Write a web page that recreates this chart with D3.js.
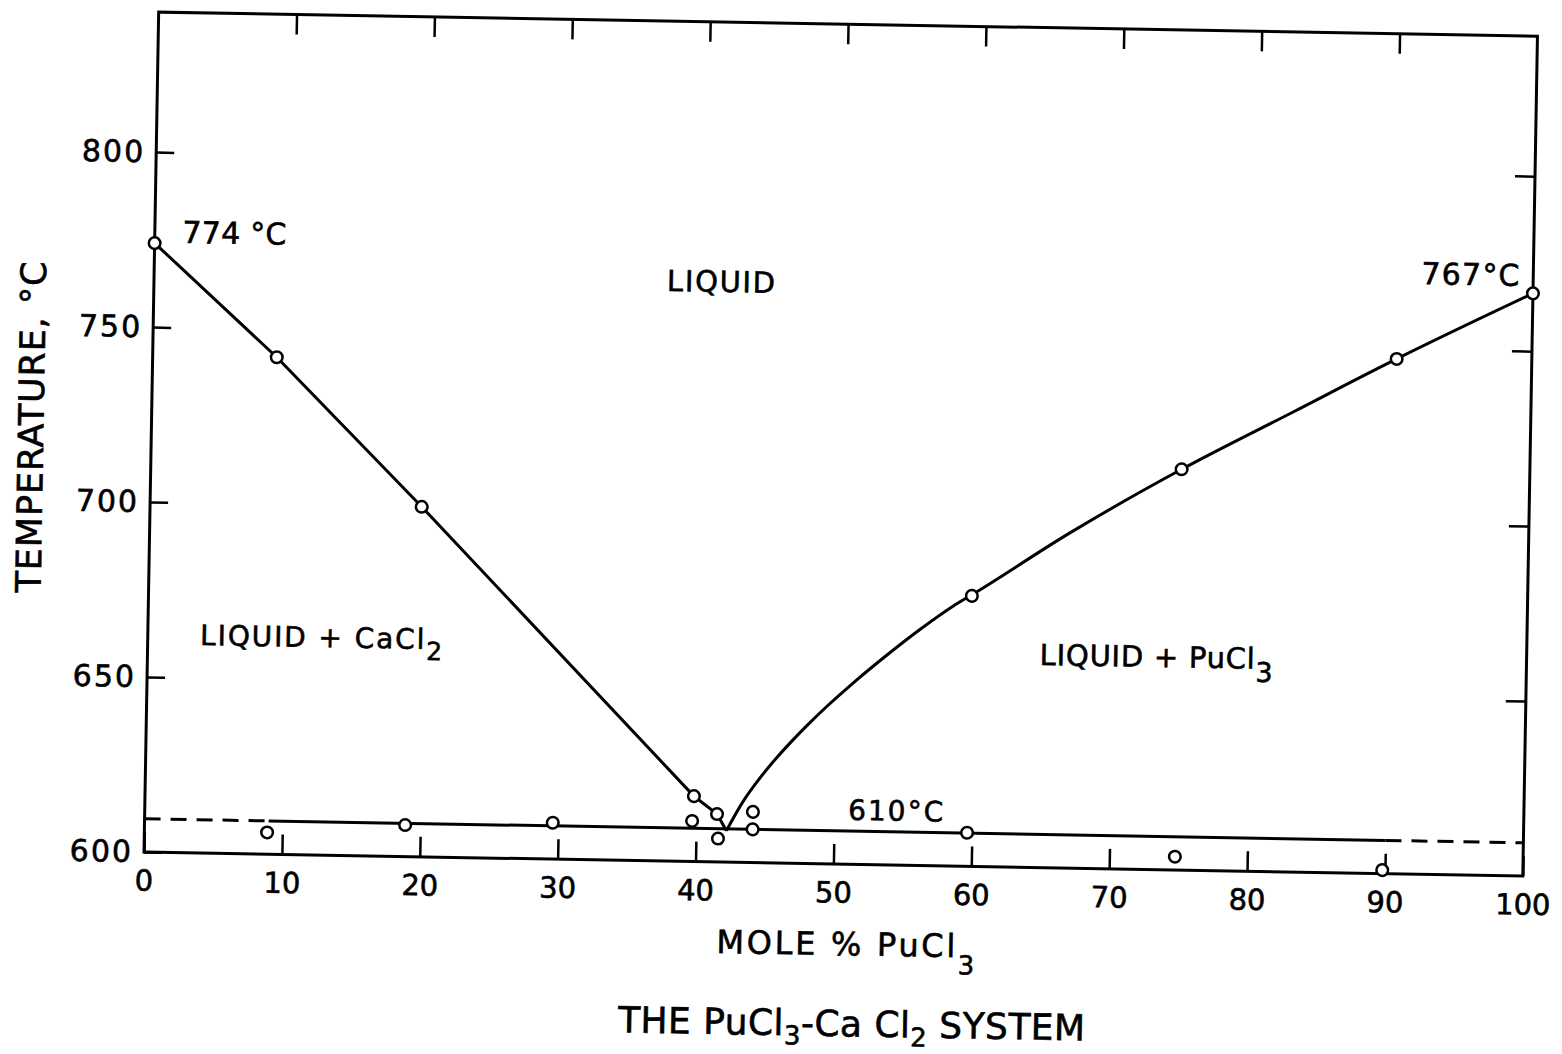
<!DOCTYPE html>
<html><head><meta charset="utf-8">
<script src="https://cdn.jsdelivr.net/npm/d3@7"></script>
<style>
body{margin:0;background:#fff}
svg{display:block;background:#fff}
text{font-family:"DejaVu Sans",sans-serif;fill:#000;stroke:#000;stroke-width:0.6px}
</style>
</head><body>
<svg id="chart" width="1562" height="1054"></svg>
<script>
// ---- data (mole % PuCl3, temperature °C) ----
const xTickValues = [0,10,20,30,40,50,60,70,80,90,100];
const yTickValues = [600,650,700,750,800];
const liquidusCaCl2Curve = [[0,774],[9,742],[19.7,700],[39.8,618.7],[41.5,613.7],[42.2,609]];
const liquidusPuCl3Curve = [[42.2,609],[43.4,617.6],[44.6,624.4],[45.8,630.3],[46.9,635.2],[48.1,640.2],[49.3,644.9],[51.2,651.8],[53.6,659.9],[56.0,667.5],[58.4,674.4],[59.7,677.6],[66.7,695.7],[74.75,714.5],[82.8,731.5],[90.2,747.1],[100,766.5]];
const liquidusPoints = [[0,774],[9,742],[19.7,700],[39.8,618.7],[41.5,613.7],[59.7,677.3],[74.75,714.5],[90.2,747.1],[100,766.5]];
const arrestPoints = [[8.9,606.2],[18.9,609.0],[29.6,610.4],[39.7,611.6],[41.6,606.7],[44.1,614.5],[44.1,609.5],[59.65,609.6],[74.75,603.8],[89.8,601.0]];
const eutecticTemp = 609.5;
const eutecticSolid = [[9,eutecticTemp],[90,eutecticTemp]];
const eutecticDashedLeft = [[0,eutecticTemp],[9,eutecticTemp]];
const eutecticDashedRight = [[90,eutecticTemp],[100,eutecticTemp]];

// ---- layout ----
const W = 1379, H = 840;
const svg = d3.select("#chart");
const g = svg.append("g").attr("transform","rotate(1,144,852) translate(144,12)");
const x = d3.scaleLinear().domain([0,100]).range([0,W]);
const y = d3.scaleLinear().domain([600,840]).range([H,0]);
const line = d3.line().x(d=>x(d[0])).y(d=>y(d[1]));
const smooth = d3.line().x(d=>x(d[0])).y(d=>y(d[1])).curve(d3.curveMonotoneX);

// axes with inward ticks
const bottom = g.append("g").attr("transform",`translate(0,${H})`)
  .call(d3.axisBottom(x).tickValues(xTickValues).tickSizeInner(-20).tickSizeOuter(0).tickPadding(18));
bottom.selectAll("text").attr("font-size",29).attr("font-family","DejaVu Sans");
const left = g.append("g")
  .call(d3.axisLeft(y).tickValues(yTickValues).tickSizeInner(-18).tickSizeOuter(0).tickPadding(11));
left.selectAll("text").attr("font-size",30).attr("font-family","DejaVu Sans").style("letter-spacing","2px");
g.append("g").call(d3.axisTop(x).tickValues(xTickValues.slice(1,-1)).tickSizeInner(-20).tickSizeOuter(0).tickFormat(""));
g.append("g").attr("transform",`translate(${W},0)`)
  .call(d3.axisRight(y).tickValues(yTickValues.slice(1)).tickSizeInner(-20).tickSizeOuter(0).tickFormat(""));
g.selectAll(".domain").remove();
g.selectAll(".tick line").attr("stroke","#000").attr("stroke-width",2.5);
g.selectAll(".tick text").attr("fill","#000");

// frame
g.append("rect").attr("x",0).attr("y",0).attr("width",W).attr("height",H)
  .attr("fill","none").attr("stroke","#000").attr("stroke-width",3);

// eutectic line
g.append("path").attr("d",line(eutecticSolid)).attr("fill","none").attr("stroke","#000").attr("stroke-width",3);
[eutecticDashedLeft,eutecticDashedRight].forEach(seg=>{
  g.append("path").attr("d",line(seg)).attr("fill","none").attr("stroke","#000")
   .attr("stroke-width",3).attr("stroke-dasharray","16,10");
});

// liquidus curves
g.append("path").attr("d",line(liquidusCaCl2Curve)).attr("fill","none").attr("stroke","#000")
  .attr("stroke-width",3).attr("stroke-linejoin","round");
g.append("path").attr("d",smooth(liquidusPuCl3Curve)).attr("fill","none").attr("stroke","#000")
  .attr("stroke-width",3).attr("stroke-linejoin","round");

// data points
g.selectAll("circle.pt").data(liquidusPoints.concat(arrestPoints)).enter().append("circle")
  .attr("class","pt").attr("cx",d=>x(d[0])).attr("cy",d=>y(d[1])).attr("r",5.8)
  .attr("fill","#fff").attr("stroke","#000").attr("stroke-width",2.5);

// annotations
function label(px,py,parts,opts){
  const t = g.append("text").attr("x",px).attr("y",py).attr("font-size",opts.size)
    .attr("text-anchor",opts.anchor||"start");
  if(opts.len) t.attr("textLength",opts.len).attr("lengthAdjust","spacing");
  if(opts.rotate) t.attr("transform",opts.rotate);
  parts.forEach(p=>{
    const s = t.append("tspan").text(p.t);
    if(p.sub){ s.attr("dy",p.sub).attr("font-size",p.fs); }
    if(p.back){ s.attr("dy",p.back); }
  });
  return t;
}
label(x(2.0),y(774.2),[{t:"774 °C"}],{size:30,len:104});
label(x(37.2),y(762.9),[{t:"LIQUID"}],{size:29,len:108});
label(x(99.0),y(768.6),[{t:"767°C"}],{size:30,anchor:"end",len:98});
label(x(3.8),y(659.4),[{t:"LIQUID + CaCl"},{t:"2",sub:11,fs:25}],{size:28,len:242});
label(x(64.7),y(657.9),[{t:"LIQUID + PuCl"},{t:"3",sub:13,fs:27}],{size:29,len:233});
label(x(51.0),y(612.7),[{t:"610°C"}],{size:28,len:95});

// axis titles
label(574,931,[{t:"MOLE % PuCl"},{t:"3",sub:17,fs:26}],{size:32,len:258});
label(477,1012,[{t:"THE PuCl"},{t:"3",sub:9,fs:26},{t:"-Ca Cl",back:-9},{t:"2",sub:9,fs:26},{t:" SYSTEM",back:-9}],{size:36,len:467});
label(0,0,[{t:"TEMPERATURE, °C"}],{size:35,anchor:"middle",len:331,rotate:"translate(-108,417) rotate(-90)"});
</script>
</body></html>
